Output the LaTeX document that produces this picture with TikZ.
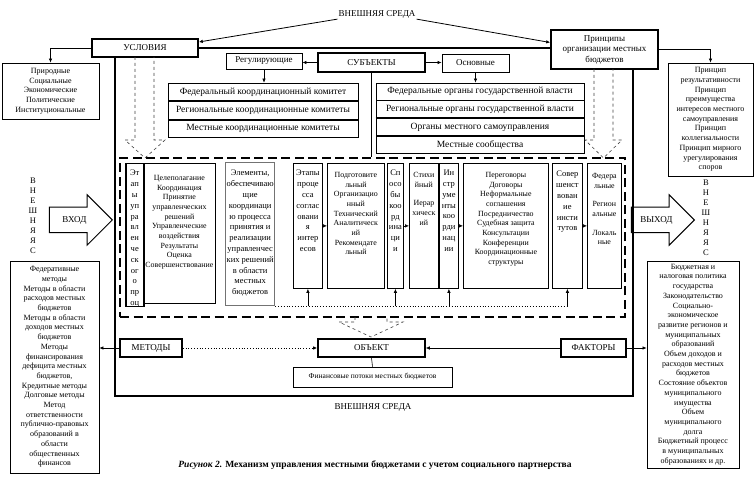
\documentclass[tikz,border=0pt]{standalone}
\usepackage{fontspec}
\setmainfont{Liberation Serif}
\usetikzlibrary{positioning,arrows.meta,shapes.arrows}

\begin{document}
\begin{tikzpicture}[x=1pt, y=-1pt, >={Latex[length=4pt,width=3.5pt]},
  every node/.style={inner sep=1pt, align=center, font=\fontsize{8}{9.7}\selectfont},
  head box/.style={draw, line width=1.6pt, font=\fontsize{9}{10.5}\selectfont},
  sub box/.style={draw, line width=0.8pt, font=\fontsize{9}{10.5}\selectfont},
  row box/.style={draw, line width=0.8pt, font=\fontsize{9.5}{11}\selectfont},
  list box/.style={draw, line width=0.8pt, fill=white},
  col box/.style={draw, line width=0.8pt, anchor=north west},
  col text/.style={anchor=north, font=\fontsize{8.5}{10.8}\selectfont},
  small text/.style={anchor=north, font=\fontsize{7.9}{9.7}\selectfont},
  io arrow/.style={single arrow, draw, line width=1pt, single arrow head extend=12.5pt,
    minimum height=63pt, inner xsep=2pt, inner ysep=8pt, text height=7pt, text depth=1.5pt,
    font=\fontsize{9}{10}\selectfont},
  hollow/.style={draw=black!75, dashed, line width=0.6pt},
  frame/.style={line width=1.6pt}]

\useasboundingbox (0,0) rectangle (755,478);

% environment labels
\node[font=\fontsize{9}{10}\selectfont] (envtop) at (377,14) {ВНЕШНЯЯ СРЕДА};
\node[font=\fontsize{9}{10}\selectfont] (envbot) at (373,407) {ВНЕШНЯЯ СРЕДА};
\node[anchor=north, font=\fontsize{8.5}{10}\selectfont] (envl) at (33,177) {В\\Н\\Е\\Ш\\Н\\Я\\Я\\С};
\node[anchor=north, font=\fontsize{8.5}{10}\selectfont] (envr) at (706,179) {В\\Н\\Е\\Ш\\Н\\Я\\Я\\С};

% upper boxes
\node[head box, minimum width=106, minimum height=18] (usl) at (145,48) {УСЛОВИЯ};
\node[head box, minimum width=107, minimum height=39] (princ) at (604.5,49.5) {Принципы\\организации местных\\бюджетов};
\node[head box, minimum width=107, minimum height=19] (subj) at (371.5,62.5) {СУБЪЕКТЫ};
\node[sub box, minimum width=76, minimum height=16] (reg) at (264,61) {Регулирующие};
\node[sub box, minimum width=67, minimum height=18] (osn) at (475.5,63) {Основные};

\node[list box, minimum width=97, minimum height=56] (usllist) at (50.5,91) {Природные\\Социальные\\Экономические\\Политические\\Институциональные};
\node[list box, minimum width=85, minimum height=113] (princlist) at (710.5,119.5) {Принцип\\результативности\\Принцип\\преимущества\\интересов местного\\самоуправления\\Принцип\\коллегиальности\\Принцип мирного\\урегулирования\\споров};

\node[row box, minimum width=190, minimum height=17.7] (k1) at (263,91.9) {Федеральный координационный комитет};
\node[row box, minimum width=190, minimum height=17.7, below=0pt of k1] (k2) {Региональные координационные комитеты};
\node[row box, minimum width=190, minimum height=17.7, below=0pt of k2] (k3) {Местные координационные комитеты};

\node[row box, minimum width=208, minimum height=17] (o1) at (480,91.5) {Федеральные органы государственной власти};
\node[row box, minimum width=208, minimum height=17, below=0pt of o1] (o2) {Региональные органы государственной власти};
\node[row box, minimum width=208, minimum height=17, below=0pt of o2] (o3) {Органы местного самоуправления};
\node[row box, minimum width=208, minimum height=17, below=0pt of o3] (o4) {Местные сообщества};
\draw[line width=1.4pt] (o2.south west) -- (o2.south east);

% outer frame
\coordinate (fl) at (115,396);
\coordinate (fr) at (633,396);
\draw[frame] (usl.east) -- (usl.east -| princ.west);
\draw[frame] (usl.south -| fl) -- (fl) -- (fr) -- (princ.south -| fr);

% mechanism
\node[draw, line width=1.8pt, dash pattern=on 9pt off 4.5pt, minimum width=505, minimum height=159] (mech) at (372.5,237.5) {};

\node[col box, line width=1.5pt, minimum width=18, minimum height=143] (c1) at (125,163) {};
\node[col box, minimum width=72, minimum height=140] (c2) at (143,163) {};
\node[col box, draw=black!55, line width=1.3pt, minimum width=49, minimum height=143] (c3) at (225,162) {};
\node[col box, minimum width=29, minimum height=125] (c4) at (293,163) {};
\node[col box, minimum width=57, minimum height=125] (c5) at (327,163) {};
\node[col box, minimum width=16, minimum height=125] (c6) at (387,163) {};
\node[col box, minimum width=29, minimum height=125] (c7) at (409,163) {};
\node[col box, minimum width=19, minimum height=125] (c8) at (439,163) {};
\node[col box, minimum width=85, minimum height=125] (c9) at (463,163) {};
\node[col box, minimum width=30, minimum height=125] (c10) at (552,163) {};
\node[col box, minimum width=34, minimum height=125] (c11) at (587,163) {};

\node[col text, below=6pt of c1.north] (t1) {Эт\\ап\\ы\\уп\\ра\\вл\\ен\\че\\ск\\ог\\о\\пр\\оц};
\node[small text, below=11pt of c2.north] (t2) {Целеполагание\\Координация\\Принятие\\управленческих\\решений\\Управленческие\\воздействия\\Результаты\\Оценка\\Совершенствование};
\node[col text, below=7pt of c3.north] (t3) {Элементы,\\обеспечиваю\\щие\\координаци\\ю процесса\\принятия и\\реализации\\управленчес\\ких решений\\в области\\местных\\бюджетов};
\node[col text, below=6pt of c4.north] (t4) {Этапы\\проце\\сса\\соглас\\овани\\я\\интер\\есов};
\node[small text, below=8pt of c5.north] (t5) {Подготовите\\льный\\Организацио\\нный\\Технический\\Аналитическ\\ий\\Рекомендате\\льный};
\node[col text, below=6pt of c6.north] (t6) {Сп\\осо\\бы\\коо\\рд\\ина\\ци\\и};
\node[small text, below=8pt of c7.north] (t7) {Стихи\\йный\\[9pt]Иерар\\хическ\\ий};
\node[col text, below=6pt of c8.north] (t8) {Ин\\стр\\уме\\нты\\коо\\рди\\нац\\ии};
\node[small text, below=8pt of c9.north] (t9) {Переговоры\\Договоры\\Неформальные\\соглашения\\Посредничество\\Судебная защита\\Консультации\\Конференции\\Координационные\\структуры};
\node[col text, below=7pt of c10.north] (t10) {Совер\\шенст\\вован\\ие\\инсти\\тутов};
\node[small text, below=9pt of c11.north] (t11) {Федера\\льные\\[9pt]Регион\\альные\\[9pt]Локаль\\ные};

\path[->, line width=0.6pt]
 (c4) edge (c5)
 (c6) edge (c7)
 (c8) edge (c9)
 (c10) edge (c11)
 (c4.south |- c3.south east) edge (c4.south)
 (c6.south |- c3.south east) edge (c6.south)
 (c8.south |- c3.south east) edge (c8.south)
 (c10.south |- c3.south east) edge (c10.south);
\draw[dotted, line width=0.8pt] (c3.south east) -- (c3.south east -| c10.south);

% lower boxes
\node[head box, minimum width=62, minimum height=18] (metody) at (151,348) {МЕТОДЫ};
\node[head box, minimum width=107, minimum height=18] (obj) at (371.5,348) {ОБЪЕКТ};
\node[head box, minimum width=65, minimum height=18] (fakt) at (593.5,348) {ФАКТОРЫ};
\node[draw, line width=0.6pt, minimum width=159, minimum height=20, font=\fontsize{7.5}{8.5}\selectfont] (fin) at (372.5,377) {Финансовые потоки местных бюджетов};

\node[list box, minimum width=89, minimum height=212] (metlist) at (54.5,367) {Федеративные\\методы\\Методы в области\\расходов местных\\бюджетов\\Методы в области\\доходов местных\\бюджетов\\Методы\\финансирования\\дефицита местных\\бюджетов,\\Кредитные методы\\Долговые методы\\Метод\\ответственности\\публично-правовых\\образований в\\области\\общественных\\финансов};
\node[list box, minimum width=92, minimum height=207] (faklist) at (693,364.5) {Бюджетная и\\налоговая политика\\государства\\Законодательство\\Социально-\\экономическое\\развитие регионов и\\муниципальных\\образований\\Объем доходов и\\расходов местных\\бюджетов\\Состояние объектов\\муниципального\\имущества\\Объем\\муниципального\\долга\\Бюджетный процесс\\в муниципальных\\образованиях и др.};

% input and output
\node[io arrow, anchor=tip] (vhod) at (113,220) {ВХОД};
\node[io arrow, anchor=tip] (vyhod) at (695,220) {ВЫХОД};

% hollow dashed arrows
\draw[hollow] (135,57) -- (135,140) -- (125,140) -- (145,158) -- (165,140) -- (154,140) -- (154,57);
\draw[hollow] (594,69) -- (594,140) -- (585,140) -- (603.5,158) -- (622,140) -- (613,140) -- (613,69);
\draw[hollow] (355,317) -- (355,322) -- (339,322) -- (371,337) -- (403,322) -- (387,322) -- (387,317);

% connectors
\draw[->, line width=0.8pt] (envtop.south west) -- ([yshift=6pt]usl.east);
\draw[->, line width=0.8pt] (envtop.south east) -- ([yshift=7pt]princ.west);
\draw[->, line width=0.6pt] (usl.west) -| (usllist.north);
\draw[->, line width=0.6pt] (princ.east) -| (princlist.north);
\draw[->, line width=0.6pt] (subj.west) -- (subj.west -| reg.east);
\draw[->, line width=0.6pt] (subj.east) -- (subj.east -| osn.west);
\draw[->, line width=0.6pt] (reg.south) -- (reg.south |- k1.north);
\draw[->, line width=0.6pt] (osn.south) -- (osn.south |- o1.north);
\draw[line width=0.6pt] (subj.south) -- (subj.south |- mech.north);
\draw[->, line width=0.6pt] (metody.west) -- (metody.west -| metlist.east);
\draw[->, dotted, line width=0.8pt] (metody.east) -- (obj.west);
\draw[->, line width=0.6pt] (fakt.west) -- (obj.east);
\draw[->, line width=0.6pt] (fakt.east) -- (fakt.east -| faklist.west);
\draw[line width=0.6pt] (obj.south) -- (fin.north);

% caption
\node[font=\fontsize{9.5}{11}\selectfont] (cap) at (375,465) {\textbf{\textit{Рисунок 2.} Механизм управления местными бюджетами с учетом социального партнерства}};
\end{tikzpicture}
\end{document}
